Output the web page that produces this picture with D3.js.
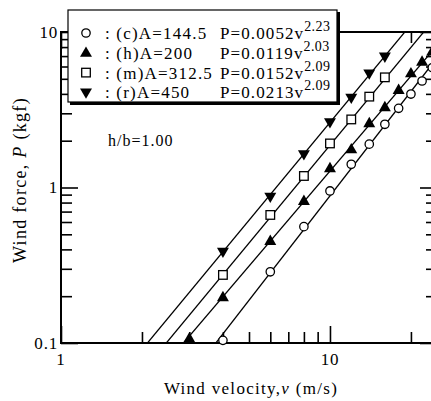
<!DOCTYPE html>
<html>
<head>
<meta charset="utf-8">
<script src="https://cdn.jsdelivr.net/npm/d3@7"></script>
<style>
  html, body { margin: 0; padding: 0; background: #fff; }
  svg { display: block; }
  text { font-family: "Liberation Serif", "Times New Roman", serif; fill: #000; }
</style>
</head>
<body>
<svg id="chart" width="431" height="401"></svg>
<script>
// Measured wind force P (kgf) against wind velocity v (m/s), h/b = 1.00
const seriesKeys = ["c", "h", "m", "r"];
const seriesAreas = ["144.5", "200", "312.5", "450"];
const fitCoef = [0.0052, 0.0119, 0.0152, 0.0213];
const fitExp = [2.23, 2.03, 2.09, 2.09];

const velC = [4, 6, 8, 10, 12, 14, 16, 18, 20, 22, 24];
const forceC = [0.104, 0.287, 0.56, 0.95, 1.41, 1.90, 2.55, 3.23, 3.99, 4.84, 5.9];
const velH = [3, 4, 6, 8, 10, 12, 14, 16, 18, 20, 22, 24];
const forceH = [0.107, 0.197, 0.453, 0.819, 1.33, 1.76, 2.59, 3.28, 4.24, 5.42, 6.44, 7.5];
const velM = [4, 6, 8, 10, 12, 14, 16];
const forceM = [0.274, 0.666, 1.186, 1.92, 2.74, 3.84, 5.11];
const velR = [4, 6, 8, 10, 12, 14, 16];
const forceR = [0.387, 0.873, 1.64, 2.63, 3.78, 5.42, 6.95];

const xTickMajor = [1, 10];
const xTickMinor = [2, 3, 4, 5, 6, 7, 8, 9, 20];
const yTickMajor = [0.1, 1, 10];
const yTickMinor = [0.2, 0.3, 0.4, 0.5, 0.6, 0.7, 0.8, 0.9, 2, 3, 4, 5, 6, 7, 8, 9];
const xTickLabels = ["1", "10"];
const yTickLabels = ["0.1", "1", "10"];

const svg = d3.select("#chart");
const x = d3.scaleLog().domain([1, 25]).range([61, 437]);
const y = d3.scaleLog().domain([0.1, 10]).range([343, 32]);
const [x0, x1] = x.range();
const [y0, y1] = y.range();

svg.append("defs").append("clipPath").attr("id", "plot")
  .append("rect").attr("x", x0).attr("y", y1).attr("width", x1 - x0).attr("height", y0 - y1);

// Axes: ticks on all four sides, pointing inward
const majLen = 17, minLen = 11;
function axisGen(axisFn, scale, values, len) {
  return axisFn(scale).tickValues(values).tickSize(len).tickFormat("");
}
const axes = svg.append("g").attr("class", "axes");
const axBottom = axes.append("g").attr("transform", `translate(0,${y0})`);
axBottom.append("g").call(axisGen(d3.axisTop, x, xTickMajor, majLen));
axBottom.append("g").call(axisGen(d3.axisTop, x, xTickMinor, minLen));
const axTop = axes.append("g").attr("transform", `translate(0,${y1})`);
axTop.append("g").call(axisGen(d3.axisBottom, x, xTickMajor, majLen));
axTop.append("g").call(axisGen(d3.axisBottom, x, xTickMinor, minLen));
const axLeft = axes.append("g").attr("transform", `translate(${x0},0)`);
axLeft.append("g").call(axisGen(d3.axisRight, y, yTickMajor, majLen));
axLeft.append("g").call(axisGen(d3.axisRight, y, yTickMinor, minLen));
const axRight = axes.append("g").attr("transform", `translate(${x1},0)`);
axRight.append("g").call(axisGen(d3.axisLeft, y, yTickMajor, majLen));
axRight.append("g").call(axisGen(d3.axisLeft, y, yTickMinor, minLen));

axes.selectAll(".domain").remove();
axes.selectAll(".tick line").attr("stroke", "#000").attr("stroke-width", 1.6);
axes.append("rect").attr("x", x0).attr("y", y1).attr("width", x1 - x0).attr("height", y0 - y1)
  .attr("fill", "none").attr("stroke", "#000").attr("stroke-width", 2);

// Tick labels
const lblSize = 17;
svg.append("g").selectAll("text").data(yTickMajor).join("text")
  .attr("x", x0 - 3).attr("y", d => y(d)).attr("dy", "0.35em")
  .attr("text-anchor", "end").attr("font-size", lblSize).attr("letter-spacing", 0.8)
  .text((d, i) => yTickLabels[i]);
svg.append("g").selectAll("text").data(xTickMajor).join("text")
  .attr("x", d => x(d)).attr("y", y0 + 22)
  .attr("text-anchor", "middle").attr("font-size", lblSize).attr("letter-spacing", 0.8)
  .text((d, i) => xTickLabels[i]);

// Axis titles
const xt = svg.append("text").attr("x", 251).attr("y", 394).attr("text-anchor", "middle")
  .attr("font-size", 17).attr("letter-spacing", 1.3);
xt.append("tspan").text("Wind velocity,");
xt.append("tspan").attr("font-style", "italic").text("v");
xt.append("tspan").text(" (m/s)");

const yt = svg.append("text").attr("transform", "translate(26,180) rotate(-90)")
  .attr("text-anchor", "middle").attr("font-size", 18).attr("letter-spacing", 1.3);
yt.append("tspan").text("Wind force, ");
yt.append("tspan").attr("font-style", "italic").text("P");
yt.append("tspan").text(" (kgf)");

// Fitted power-law lines P = a v^b
const plot = svg.append("g").attr("clip-path", "url(#plot)");
seriesKeys.forEach((k, i) => {
  const a = fitCoef[i], b = fitExp[i];
  const vLo = Math.pow(0.1 / a, 1 / b) * 0.98;
  const vHi = Math.pow(10 / a, 1 / b) * 1.02;
  const pts = [vLo, vHi].map(v => [x(v), y(a * Math.pow(v, b))]);
  plot.append("path").attr("d", d3.line()(pts))
    .attr("fill", "none").attr("stroke", "#000").attr("stroke-width", 1.3);
});

// Markers
const markerTypes = ["circle", "up", "square", "down"];
function drawMarker(g, type, cx, cy) {
  if (type === "circle") {
    g.append("circle").attr("cx", cx).attr("cy", cy).attr("r", 4.2)
      .attr("fill", "#fff").attr("stroke", "#000").attr("stroke-width", 1.3);
  } else if (type === "square") {
    g.append("rect").attr("x", cx - 4.3).attr("y", cy - 4.3).attr("width", 8.6).attr("height", 8.6)
      .attr("fill", "#fff").attr("stroke", "#000").attr("stroke-width", 1.3);
  } else {
    const sym = d3.symbol().type(d3.symbolTriangle).size(62)();
    g.append("path").attr("d", sym)
      .attr("transform", `translate(${cx},${cy + (type === "up" ? 0.5 : -0.5)}) rotate(${type === "up" ? 0 : 180})`)
      .attr("fill", "#000");
  }
}
const seriesData = [[velC, forceC], [velH, forceH], [velM, forceM], [velR, forceR]];
const mk = svg.append("g");
seriesData.forEach(([vs, ps], i) => {
  vs.forEach((v, j) => drawMarker(mk, markerTypes[i], x(v), y(ps[j])));
});

// Annotation
svg.append("text").attr("x", 108).attr("y", 146).attr("font-size", 16).attr("letter-spacing", 1)
  .text("h/b=1.00");

// Legend box with drop shadow
const lg = svg.append("g");
lg.append("rect").attr("x", 70).attr("y", 12).attr("width", 270).attr("height", 93).attr("fill", "#000");
lg.append("rect").attr("x", 68).attr("y", 10).attr("width", 269).attr("height", 92)
  .attr("fill", "#fff").attr("stroke", "#000").attr("stroke-width", 1.2);
seriesKeys.forEach((k, i) => {
  const ry = 33 + i * 19.8;
  drawMarker(lg, markerTypes[i], 86, ry);
  lg.append("text").attr("x", 105).attr("y", ry + 6).attr("font-size", 17).attr("letter-spacing", 1.2)
    .text(`: (${k})A=${seriesAreas[i]}`);
  const eq = lg.append("text").attr("x", 220).attr("y", ry + 6).attr("font-size", 17).attr("letter-spacing", 1.1);
  eq.append("tspan").text(`P=${fitCoef[i].toFixed(4)}v`);
  eq.append("tspan").attr("font-size", 14).attr("letter-spacing", 0.4).attr("dy", -8).text(fitExp[i].toFixed(2));
});
</script>
</body>
</html>
